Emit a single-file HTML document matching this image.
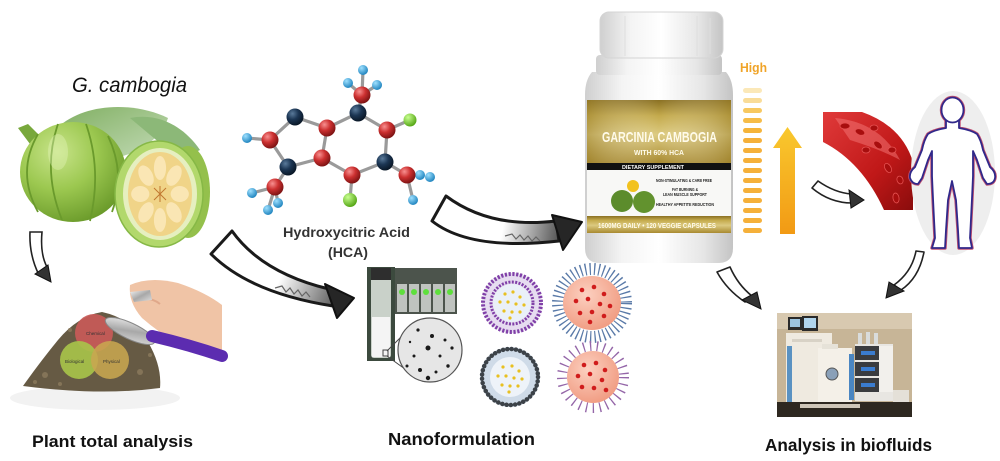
<!DOCTYPE html>
<html><head><meta charset="utf-8"><style>
html,body{margin:0;padding:0;background:#fff;}
svg{display:block;}
</style></head><body>
<svg width="1000" height="461" viewBox="0 0 1000 461" xmlns="http://www.w3.org/2000/svg">
<defs>
<radialGradient id="fruitG" cx="35%" cy="30%" r="75%"><stop offset="0" stop-color="#c8e48a"/><stop offset="0.5" stop-color="#9cc850"/><stop offset="1" stop-color="#6a9a2a"/></radialGradient>
<linearGradient id="leafG" x1="0" y1="0" x2="1" y2="1"><stop offset="0" stop-color="#7fae60"/><stop offset="1" stop-color="#c4dcb8"/></linearGradient>
<radialGradient id="redA" cx="35%" cy="30%" r="70%"><stop offset="0" stop-color="#f89090"/><stop offset="0.5" stop-color="#cc3030"/><stop offset="1" stop-color="#801414"/></radialGradient>
<radialGradient id="navA" cx="35%" cy="30%" r="70%"><stop offset="0" stop-color="#5a7a9a"/><stop offset="0.5" stop-color="#1c3654"/><stop offset="1" stop-color="#0a1828"/></radialGradient>
<radialGradient id="bluA" cx="35%" cy="30%" r="70%"><stop offset="0" stop-color="#9ee0ff"/><stop offset="1" stop-color="#2286c0"/></radialGradient>
<radialGradient id="grnA" cx="35%" cy="30%" r="70%"><stop offset="0" stop-color="#c8ff90"/><stop offset="1" stop-color="#58a818"/></radialGradient>
<linearGradient id="bodyG" x1="0" y1="0" x2="1" y2="0"><stop offset="0" stop-color="#cfcfcf"/><stop offset="0.25" stop-color="#f4f4f4"/><stop offset="0.5" stop-color="#ffffff"/><stop offset="0.8" stop-color="#e6e6e6"/><stop offset="1" stop-color="#c4c4c4"/></linearGradient>
<linearGradient id="goldG" x1="0" y1="0" x2="0" y2="1"><stop offset="0" stop-color="#8a7022"/><stop offset="0.25" stop-color="#c4aa4c"/><stop offset="0.55" stop-color="#dcca80"/><stop offset="1" stop-color="#a88a30"/></linearGradient>
<linearGradient id="goldH" x1="0" y1="0" x2="1" y2="0"><stop offset="0" stop-color="#9a7e28" stop-opacity="0.5"/><stop offset="0.5" stop-color="#fff" stop-opacity="0"/><stop offset="1" stop-color="#9a7e28" stop-opacity="0.5"/></linearGradient>
<linearGradient id="upG" x1="0" y1="0" x2="0" y2="1"><stop offset="0" stop-color="#f9c82e"/><stop offset="1" stop-color="#f29a14"/></linearGradient>
<linearGradient id="vesG" x1="0" y1="0" x2="1" y2="1"><stop offset="0" stop-color="#e03a3a"/><stop offset="0.6" stop-color="#c01818"/><stop offset="1" stop-color="#8a0c0c"/></linearGradient>
<radialGradient id="peachG" cx="40%" cy="35%" r="70%"><stop offset="0" stop-color="#fcd0c0"/><stop offset="1" stop-color="#f09a80"/></radialGradient>
<linearGradient id="arr1" x1="212" y1="240" x2="340" y2="300" gradientUnits="userSpaceOnUse"><stop offset="0" stop-color="#fff"/><stop offset="0.55" stop-color="#fff"/><stop offset="1" stop-color="#555"/></linearGradient>
<linearGradient id="arr2" x1="435" y1="210" x2="560" y2="232" gradientUnits="userSpaceOnUse"><stop offset="0" stop-color="#fff"/><stop offset="0.55" stop-color="#fff"/><stop offset="1" stop-color="#555"/></linearGradient>
<linearGradient id="silv" x1="0" y1="0" x2="1" y2="1"><stop offset="0" stop-color="#f4f4f4"/><stop offset="0.5" stop-color="#a8a8a8"/><stop offset="1" stop-color="#e0e0e0"/></linearGradient>
</defs>

<!-- ===== G. cambogia fruit ===== -->
<text x="72" y="92" font-family="Liberation Sans, sans-serif" font-style="italic" font-size="21" fill="#111" textLength="115" lengthAdjust="spacingAndGlyphs">G. cambogia</text>
<path d="M55,130 C80,104 130,100 168,118 C160,142 130,160 95,160 C75,155 60,145 55,130 Z" fill="url(#leafG)"/>
<path d="M130,118 C160,112 185,128 200,150 L180,160 Z" fill="#8cb878"/>
<path d="M18,128 L28,124 L44,140 L40,150 L30,144 Z" fill="#78a83c"/>
<ellipse cx="188" cy="192" rx="22" ry="46" fill="#94c04c"/>
<ellipse cx="73" cy="172" rx="53" ry="50" fill="url(#fruitG)"/>
<g fill="none" stroke="#6a9a2c" stroke-width="1.8">
<path d="M38,134 Q16,172 38,212"/>
<path d="M58,124 Q42,170 62,220"/>
<path d="M86,124 Q102,170 90,221"/>
<path d="M108,136 Q126,174 112,212"/>
</g>
<ellipse cx="58" cy="152" rx="10" ry="18" fill="#e4f4b8" opacity="0.4"/>
<ellipse cx="159" cy="194" rx="44" ry="53" fill="#b2d86c" stroke="#86b846" stroke-width="1.5"/>
<ellipse cx="160" cy="194" rx="37" ry="46" fill="#e6efc0"/>
<ellipse cx="160" cy="194" rx="32" ry="42" fill="#f0d488"/>
<g fill="#fae6b4">
<g transform="translate(160,194) scale(0.76,1) rotate(0) translate(0,-26)"><ellipse rx="8" ry="12"/></g>
<g transform="translate(160,194) scale(0.76,1) rotate(45) translate(0,-26)"><ellipse rx="8" ry="12"/></g>
<g transform="translate(160,194) scale(0.76,1) rotate(90) translate(0,-26)"><ellipse rx="8" ry="12"/></g>
<g transform="translate(160,194) scale(0.76,1) rotate(135) translate(0,-26)"><ellipse rx="8" ry="12"/></g>
<g transform="translate(160,194) scale(0.76,1) rotate(180) translate(0,-26)"><ellipse rx="8" ry="12"/></g>
<g transform="translate(160,194) scale(0.76,1) rotate(225) translate(0,-26)"><ellipse rx="8" ry="12"/></g>
<g transform="translate(160,194) scale(0.76,1) rotate(270) translate(0,-26)"><ellipse rx="8" ry="12"/></g>
<g transform="translate(160,194) scale(0.76,1) rotate(315) translate(0,-26)"><ellipse rx="8" ry="12"/></g>
</g>
<g stroke="#c07830" stroke-width="1"><line x1="154" y1="188" x2="166" y2="200"/><line x1="166" y1="188" x2="154" y2="200"/><line x1="160" y1="186" x2="160" y2="202"/></g>

<!-- small arrow fruit -> plant -->
<path d="M30,232 L42,232 Q40,254 47,267 L39,275 Q29,255 30,232 Z" fill="#fff" stroke="#222" stroke-width="1.6"/>
<path d="M35,274 L48,265 L51,282 Z" fill="#333" stroke="#111" stroke-width="1"/>

<!-- ===== Plant total analysis photo ===== -->
<ellipse cx="95" cy="398" rx="85" ry="12" fill="#f2f2f2"/>
<path d="M23,386 Q40,362 58,340 Q78,316 102,312 Q130,318 148,342 Q162,366 160,388 Q100,396 23,386 Z" fill="#665a44"/>
<g fill="#847458"><circle cx="45" cy="375" r="3"/><circle cx="140" cy="372" r="3"/><circle cx="70" cy="330" r="2"/><circle cx="150" cy="355" r="2"/><circle cx="35" cy="382" r="2"/><circle cx="60" cy="384" r="2"/></g>
<circle cx="94" cy="333" r="19" fill="#c85a58" opacity="0.92"/>
<circle cx="79" cy="360" r="19" fill="#a8c44a" opacity="0.9"/>
<circle cx="110" cy="360" r="19" fill="#c8a650" opacity="0.88"/>
<text x="86" y="335" font-family="Liberation Sans, sans-serif" font-size="4.5" fill="#333">Chemical</text>
<text x="65" y="363" font-family="Liberation Sans, sans-serif" font-size="4.5" fill="#333">Biological</text>
<text x="103" y="363" font-family="Liberation Sans, sans-serif" font-size="4.5" fill="#333">Physical</text>
<path d="M130,285 Q150,276 178,283 Q205,292 222,305 L222,360 Q200,356 180,345 Q158,332 142,318 Q128,302 130,285 Z" fill="#f0c4a6"/>
<path d="M135,300 Q150,296 160,304" stroke="#e0a88a" stroke-width="2" fill="none"/>
<path d="M130,292 L150,290 L152,300 L134,302 Z" fill="url(#silv)"/>
<ellipse cx="130" cy="331" rx="27" ry="8" transform="rotate(25 130 331)" fill="url(#silv)" stroke="#888" stroke-width="1"/>
<path d="M152,336 Q190,345 222,356" stroke="#5c2cb0" stroke-width="12" fill="none" stroke-linecap="round"/>

<text x="32" y="447" font-family="Liberation Sans, sans-serif" font-weight="bold" font-size="17" fill="#111" textLength="161" lengthAdjust="spacingAndGlyphs">Plant total analysis</text>

<!-- ===== Molecule ===== -->
<g stroke="#9a9a9a" stroke-width="3.2" fill="none">
<polyline points="295,117 327,128 322,158 288,167 270,140 295,117"/>
<polyline points="327,128 358,113 387,130 385,162 352,175 322,158"/>
<line x1="358" y1="113" x2="362" y2="95"/><line x1="362" y1="95" x2="363" y2="70"/><line x1="362" y1="95" x2="348" y2="83"/><line x1="362" y1="95" x2="377" y2="85"/>
<line x1="387" y1="130" x2="410" y2="120"/>
<line x1="385" y1="162" x2="407" y2="175"/><line x1="407" y1="175" x2="420" y2="175"/><line x1="407" y1="175" x2="413" y2="200"/>
<line x1="352" y1="175" x2="350" y2="200"/>
<line x1="270" y1="140" x2="247" y2="138"/>
<line x1="288" y1="167" x2="275" y2="187"/><line x1="275" y1="187" x2="252" y2="193"/><line x1="275" y1="187" x2="268" y2="210"/><line x1="275" y1="187" x2="278" y2="203"/>
</g>
<g fill="url(#bluA)">
<circle cx="363" cy="70" r="5"/><circle cx="348" cy="83" r="5"/><circle cx="377" cy="85" r="5"/>
<circle cx="247" cy="138" r="5"/><circle cx="252" cy="193" r="5"/><circle cx="268" cy="210" r="5"/><circle cx="278" cy="203" r="5"/>
<circle cx="420" cy="175" r="5"/><circle cx="430" cy="177" r="5"/><circle cx="413" cy="200" r="5"/>
</g>
<g fill="url(#grnA)"><circle cx="410" cy="120" r="6.5"/><circle cx="350" cy="200" r="7"/></g>
<g fill="url(#redA)">
<circle cx="362" cy="95" r="8.5"/><circle cx="387" cy="130" r="8.5"/><circle cx="327" cy="128" r="8.5"/><circle cx="270" cy="140" r="8.5"/>
<circle cx="322" cy="158" r="8.5"/><circle cx="352" cy="175" r="8.5"/><circle cx="407" cy="175" r="8.5"/><circle cx="275" cy="187" r="8.5"/>
</g>
<g fill="url(#navA)">
<circle cx="295" cy="117" r="8.5"/><circle cx="358" cy="113" r="8.5"/><circle cx="288" cy="167" r="8.5"/><circle cx="385" cy="162" r="8.5"/>
</g>
<text x="283" y="237" font-family="Liberation Sans, sans-serif" font-weight="bold" font-size="14" fill="#333" textLength="127" lengthAdjust="spacingAndGlyphs">Hydroxycitric Acid</text>
<text x="328" y="257" font-family="Liberation Sans, sans-serif" font-weight="bold" font-size="14" fill="#333" textLength="40" lengthAdjust="spacingAndGlyphs">(HCA)</text>

<!-- big arrow 1 -->
<path d="M232,231 Q262,273 329,289 L333,306 Q250,293 211,254 Z" fill="url(#arr1)" stroke="#1a1a1a" stroke-width="3" stroke-linejoin="round"/>
<polyline points="275,288 282,286 286,292 290,288 294,294 298,290 302,296 306,292 310,297" fill="none" stroke="#666" stroke-width="1.2"/>
<path d="M325,284 L354,298 L337,318 Z" fill="#262626" stroke="#111" stroke-width="2" stroke-linejoin="round"/>
<!-- big arrow 2 -->
<path d="M446,196 Q490,229 556,221 L559,241 Q470,251 432,221 Z" fill="url(#arr2)" stroke="#1a1a1a" stroke-width="3" stroke-linejoin="round"/>
<polyline points="505,236 512,234 516,239 520,235 524,240 528,236 532,241 536,237 540,241" fill="none" stroke="#666" stroke-width="1.2"/>
<path d="M552,215 L582,222 L563,250 Z" fill="#262626" stroke="#111" stroke-width="2" stroke-linejoin="round"/>

<!-- ===== Nanoformulation ===== -->
<rect x="367" y="267" width="28" height="94" fill="#3c4a3e"/>
<rect x="371" y="270" width="20" height="88" rx="3" fill="#c9d1c9"/>
<rect x="371" y="268" width="20" height="12" fill="#2e2e2e"/>
<rect x="372" y="317" width="18" height="40" fill="#f4f4f4"/>
<rect x="395" y="268" width="62" height="46" fill="#4c544c"/>
<g fill="#bfc3bf"><rect x="397" y="284" width="10" height="28"/><rect x="409" y="284" width="10" height="28"/><rect x="421" y="284" width="10" height="28"/><rect x="433" y="284" width="10" height="28"/><rect x="445" y="284" width="10" height="28"/></g>
<g fill="#5ee03c"><circle cx="402" cy="292" r="3"/><circle cx="414" cy="292" r="3"/><circle cx="426" cy="292" r="3"/><circle cx="438" cy="292" r="3"/><circle cx="450" cy="292" r="3"/></g>
<line x1="387" y1="351" x2="418" y2="320" stroke="#444" stroke-width="1"/>
<line x1="387" y1="356" x2="420" y2="380" stroke="#444" stroke-width="1"/>
<rect x="383" y="350" width="5" height="6" fill="none" stroke="#444" stroke-width="1"/>
<circle cx="430" cy="350" r="32" fill="#e6e6e6" stroke="#555" stroke-width="1.2"/>
<g fill="#1a1a1a"><circle cx="418" cy="330" r="1.6"/><circle cx="432" cy="336" r="2"/><circle cx="445" cy="340" r="1.5"/><circle cx="428" cy="348" r="2.5"/><circle cx="414" cy="356" r="1.5"/><circle cx="440" cy="356" r="1.5"/><circle cx="452" cy="348" r="1.6"/><circle cx="420" cy="370" r="2"/><circle cx="436" cy="372" r="1.5"/><circle cx="448" cy="366" r="1.7"/><circle cx="410" cy="342" r="1.2"/><circle cx="428" cy="378" r="2.2"/><circle cx="407" cy="366" r="1.5"/></g>

<!-- liposome 1 -->
<circle cx="512" cy="303" r="30" fill="#e6dcf0"/>
<circle cx="512" cy="303" r="29" fill="none" stroke="#8040a8" stroke-width="4" stroke-dasharray="2.2 1.6"/>
<circle cx="512" cy="303" r="21" fill="none" stroke="#8040a8" stroke-width="3" stroke-dasharray="2 1.4"/>
<circle cx="512" cy="303" r="19" fill="#eaf0f8"/>
<g fill="#e8c020"><circle cx="505" cy="294" r="1.6"/><circle cx="513" cy="292" r="1.6"/><circle cx="520" cy="297" r="1.6"/><circle cx="500" cy="302" r="1.6"/><circle cx="508" cy="302" r="1.6"/><circle cx="516" cy="304" r="1.6"/><circle cx="524" cy="305" r="1.6"/><circle cx="504" cy="311" r="1.6"/><circle cx="512" cy="312" r="1.6"/><circle cx="520" cy="312" r="1.6"/><circle cx="510" cy="318" r="1.6"/></g>
<!-- particle 2 blue hairs -->
<circle cx="592" cy="303" r="34" fill="none" stroke="#5a7aa8" stroke-width="12" stroke-dasharray="1.3 3.2"/>
<ellipse cx="592" cy="303" rx="29" ry="27" fill="url(#peachG)"/>
<g fill="#d01c1c"><circle cx="582" cy="290" r="2.3"/><circle cx="594" cy="287" r="2.3"/><circle cx="604" cy="294" r="2.3"/><circle cx="576" cy="301" r="2.3"/><circle cx="588" cy="299" r="2.3"/><circle cx="600" cy="304" r="2.3"/><circle cx="610" cy="306" r="2.3"/><circle cx="580" cy="313" r="2.3"/><circle cx="592" cy="312" r="2.3"/><circle cx="604" cy="316" r="2.3"/><circle cx="590" cy="322" r="2.3"/></g>
<!-- particle 3 -->
<circle cx="510" cy="377" r="30" fill="#cfdbe8"/>
<circle cx="510" cy="377" r="28" fill="none" stroke="#3c4248" stroke-width="4.5" stroke-dasharray="0.1 4.2" stroke-linecap="round"/>
<circle cx="510" cy="377" r="20" fill="#eef3f9"/>
<g fill="#e8c020"><circle cx="503" cy="367" r="1.6"/><circle cx="512" cy="366" r="1.6"/><circle cx="519" cy="371" r="1.6"/><circle cx="498" cy="376" r="1.6"/><circle cx="506" cy="376" r="1.6"/><circle cx="514" cy="378" r="1.6"/><circle cx="522" cy="379" r="1.6"/><circle cx="502" cy="385" r="1.6"/><circle cx="510" cy="386" r="1.6"/><circle cx="518" cy="386" r="1.6"/><circle cx="509" cy="392" r="1.6"/></g>
<!-- particle 4 purple hairs -->
<circle cx="593" cy="377" r="31" fill="none" stroke="#9466a8" stroke-width="10" stroke-dasharray="1.3 5.5"/>
<circle cx="593" cy="377" r="26" fill="url(#peachG)"/>
<g fill="#d01c1c"><circle cx="584" cy="365" r="2.3"/><circle cx="596" cy="363" r="2.3"/><circle cx="605" cy="370" r="2.3"/><circle cx="578" cy="376" r="2.3"/><circle cx="590" cy="374" r="2.3"/><circle cx="602" cy="380" r="2.3"/><circle cx="582" cy="387" r="2.3"/><circle cx="594" cy="388" r="2.3"/><circle cx="606" cy="390" r="2.3"/></g>

<text x="388" y="445" font-family="Liberation Sans, sans-serif" font-weight="bold" font-size="17.5" fill="#111" textLength="147" lengthAdjust="spacingAndGlyphs">Nanoformulation</text>

<!-- ===== Bottle ===== -->
<path d="M592,72 Q585,80 585,95 L585,248 Q585,263 600,263 L718,263 Q733,263 733,248 L733,95 Q733,80 726,72 Z" fill="url(#bodyG)"/>
<rect x="596" y="55" width="126" height="20" rx="4" fill="url(#bodyG)"/>
<rect x="600" y="12" width="123" height="46" rx="9" fill="url(#bodyG)" stroke="#d4d4d4" stroke-width="1"/>
<g stroke="#dedede" stroke-width="1"><line x1="612" y1="18" x2="612" y2="54"/><line x1="625" y1="16" x2="625" y2="56"/><line x1="697" y1="16" x2="697" y2="56"/><line x1="710" y1="18" x2="710" y2="54"/></g>
<rect x="587" y="100" width="144" height="63" fill="url(#goldG)"/>
<rect x="587" y="100" width="144" height="63" fill="url(#goldH)"/>
<text x="602" y="142" font-family="Liberation Sans, sans-serif" font-weight="bold" font-size="15" fill="#fffbea" textLength="115" lengthAdjust="spacingAndGlyphs">GARCINIA CAMBOGIA</text>
<text x="634" y="155" font-family="Liberation Sans, sans-serif" font-weight="bold" font-size="7.5" fill="#fffbea" textLength="50" lengthAdjust="spacingAndGlyphs">WITH 60% HCA</text>
<rect x="587" y="163" width="144" height="7" fill="#111"/>
<text x="622" y="169" font-family="Liberation Sans, sans-serif" font-weight="bold" font-size="5.5" fill="#fff" textLength="62" lengthAdjust="spacingAndGlyphs">DIETARY SUPPLEMENT</text>
<rect x="587" y="170" width="144" height="46" fill="#f8f8f6"/>
<circle cx="633" cy="186" r="6" fill="#f2c21e"/>
<circle cx="622" cy="201" r="11" fill="#5c8c2c"/>
<circle cx="644" cy="202" r="11" fill="#62922e"/>
<g font-family="Liberation Sans, sans-serif" font-weight="bold" font-size="4.5" fill="#222">
<text x="656" y="182" textLength="56" lengthAdjust="spacingAndGlyphs">NON-STIMULATING &amp; CARB FREE</text>
<text x="672" y="191" textLength="26" lengthAdjust="spacingAndGlyphs">FAT BURNING &amp;</text>
<text x="663" y="196" textLength="44" lengthAdjust="spacingAndGlyphs">LEAN MUSCLE SUPPORT</text>
<text x="656" y="206" textLength="58" lengthAdjust="spacingAndGlyphs">HEALTHY APPETITE REDUCTION</text>
</g>
<rect x="587" y="216" width="144" height="17" fill="url(#goldG)"/>
<text x="598" y="228" font-family="Liberation Sans, sans-serif" font-weight="bold" font-size="7" fill="#fffbea" textLength="118" lengthAdjust="spacingAndGlyphs">1600MG DAILY • 120 VEGGIE CAPSULES</text>

<!-- High bar -->
<text x="740" y="72" font-family="Liberation Sans, sans-serif" font-weight="bold" font-size="13" fill="#f0a428" textLength="27" lengthAdjust="spacingAndGlyphs">High</text>
<g>
<rect x="743" y="88" width="19" height="5" rx="2.5" fill="#fbe8b8"/>
<rect x="743" y="98" width="19" height="5" rx="2.5" fill="#f9dc98"/>
<rect x="743" y="108" width="19" height="5" rx="2.5" fill="#f7c860"/>
<rect x="743" y="118" width="19" height="5" rx="2.5" fill="#f6bc48"/>
<rect x="743" y="128" width="19" height="5" rx="2.5" fill="#f5b43a"/>
<rect x="743" y="138" width="19" height="5" rx="2.5" fill="#f5b03a"/>
<rect x="743" y="148" width="19" height="5" rx="2.5" fill="#f5b03a"/>
<rect x="743" y="158" width="19" height="5" rx="2.5" fill="#f5b03a"/>
<rect x="743" y="168" width="19" height="5" rx="2.5" fill="#f5b03a"/>
<rect x="743" y="178" width="19" height="5" rx="2.5" fill="#f5b03a"/>
<rect x="743" y="188" width="19" height="5" rx="2.5" fill="#f5b03a"/>
<rect x="743" y="198" width="19" height="5" rx="2.5" fill="#f5b03a"/>
<rect x="743" y="208" width="19" height="5" rx="2.5" fill="#f5b03a"/>
<rect x="743" y="218" width="19" height="5" rx="2.5" fill="#f5b03a"/>
<rect x="743" y="228" width="19" height="5" rx="2.5" fill="#f5b03a"/>
</g>
<path d="M773,148 L787.5,127 L802,148 L795,148 L795,234 L780,234 L780,148 Z" fill="url(#upG)"/>

<!-- ===== Blood vessel ===== -->
<path d="M823,112 L862,112 Q902,126 913,162 L913,210 L884,210 Q862,162 823,142 Z" fill="url(#vesG)"/>
<path d="M835,118 Q880,122 900,160 Q882,150 850,140 Z" fill="#f47878" opacity="0.5"/>
<g fill="#a80e0e" stroke="#e45050" stroke-width="0.8">
<ellipse cx="845" cy="126" rx="5" ry="3"/><ellipse cx="860" cy="132" rx="5" ry="3" transform="rotate(20 860 132)"/><ellipse cx="874" cy="128" rx="4" ry="3"/>
<ellipse cx="878" cy="145" rx="5" ry="3" transform="rotate(40 878 145)"/><ellipse cx="892" cy="150" rx="4" ry="3"/><ellipse cx="888" cy="168" rx="5" ry="3" transform="rotate(60 888 168)"/>
<ellipse cx="900" cy="180" rx="4" ry="3" transform="rotate(70 900 180)"/><ellipse cx="896" cy="198" rx="5" ry="3" transform="rotate(80 896 198)"/><ellipse cx="866" cy="150" rx="4" ry="3"/>
</g>
<!-- arrow to vessel -->
<path d="M812,188 L818,181 Q835,193 852,194 L852,203 Q830,203 812,188 Z" fill="#fff" stroke="#222" stroke-width="1.6" stroke-linejoin="round"/>
<path d="M849,190 L864,200 L851,208 Z" fill="#333" stroke="#111" stroke-width="1"/>

<!-- ===== Human ===== -->
<ellipse cx="953" cy="173" rx="42" ry="82" fill="#eeeeee"/>
<g fill="#fff" stroke="#c05070" stroke-width="3.4" stroke-linejoin="round">
<path d="M946,120 L946,128 Q934,130 928,134 Q924,140 922,150 L915,167 Q909,172 910,178 Q912,184 918,184 L922,178 L928,160 L932,151 L932,176 Q933,200 935,238 L932,248 L945,248 L946,230 L948,200 L952,181 L956,200 L958,230 L959,248 L972,248 L970,238 Q972,200 973,176 L973,151 L977,160 L983,178 L987,184 Q994,184 995,178 Q996,172 990,167 L983,150 Q981,140 977,134 Q971,130 959,128 L959,120 Z"/>
<ellipse cx="952.5" cy="110" rx="11" ry="12.5"/>
</g>
<g fill="#fff" stroke="#30288a" stroke-width="1.8" stroke-linejoin="round">
<path d="M946,120 L946,128 Q934,130 928,134 Q924,140 922,150 L915,167 Q909,172 910,178 Q912,184 918,184 L922,178 L928,160 L932,151 L932,176 Q933,200 935,238 L932,248 L945,248 L946,230 L948,200 L952,181 L956,200 L958,230 L959,248 L972,248 L970,238 Q972,200 973,176 L973,151 L977,160 L983,178 L987,184 Q994,184 995,178 Q996,172 990,167 L983,150 Q981,140 977,134 Q971,130 959,128 L959,120 Z"/>
<ellipse cx="952.5" cy="110" rx="11" ry="12.5"/>
</g>

<!-- arrows to instrument -->
<path d="M717,272 L730,267 Q738,285 752,296 L745,302 Q727,290 717,272 Z" fill="#fff" stroke="#222" stroke-width="1.6" stroke-linejoin="round"/>
<path d="M742,300 L757,292 L761,309 Z" fill="#333" stroke="#111" stroke-width="1"/>
<path d="M916,251 L924,252 Q919,278 901,290 L894,285 Q912,272 916,251 Z" fill="#fff" stroke="#222" stroke-width="1.6" stroke-linejoin="round"/>
<path d="M889,282 L904,291 L886,298 Z" fill="#333" stroke="#111" stroke-width="1"/>

<!-- ===== Instrument photo ===== -->
<rect x="777" y="313" width="135" height="104" fill="#c7b597"/>
<rect x="777" y="313" width="135" height="16" fill="#d8c9b0"/>
<rect x="788" y="317" width="14" height="13" fill="#2a2a2a"/><rect x="790" y="319" width="10" height="8" fill="#9cc4e0"/>
<rect x="802" y="316" width="16" height="15" fill="#2a2a2a"/><rect x="804" y="318" width="12" height="10" fill="#b0d4ec"/>
<rect x="786" y="333" width="46" height="71" fill="#efeae0"/>
<rect x="787" y="346" width="5" height="57" fill="#5a92c2"/>
<rect x="792" y="339" width="30" height="3" fill="#d8d2c6"/>
<rect x="818" y="348" width="34" height="57" fill="#f4f0e8"/>
<rect x="849" y="354" width="5" height="46" fill="#4a86c2"/>
<circle cx="832" cy="374" r="6" fill="#8aa0b8" stroke="#555" stroke-width="1"/>
<rect x="822" y="344" width="16" height="5" fill="#e6e2d8"/>
<rect x="858" y="333" width="4" height="12" fill="#dde6ee" opacity="0.8"/><rect x="866" y="332" width="4" height="13" fill="#dde6ee" opacity="0.8"/><rect x="874" y="333" width="4" height="12" fill="#dde6ee" opacity="0.8"/>
<rect x="855" y="344" width="38" height="57" fill="#e8e6e2"/>
<rect x="855" y="346" width="24" height="14" fill="#3a3c40"/><rect x="861" y="351" width="14" height="4" fill="#3a7cd0"/>
<rect x="855" y="362" width="24" height="14" fill="#3a3c40"/><rect x="861" y="367" width="14" height="4" fill="#3a7cd0"/>
<rect x="855" y="378" width="24" height="14" fill="#3a3c40"/><rect x="861" y="383" width="14" height="4" fill="#3a7cd0"/>
<rect x="879" y="346" width="14" height="46" fill="#f2f0ec"/>
<rect x="893" y="390" width="16" height="12" fill="#e4e0d8"/>
<rect x="777" y="402" width="135" height="15" fill="#2e2820"/>
<rect x="800" y="404" width="60" height="4" fill="#cfc6b8"/>

<text x="765" y="451" font-family="Liberation Sans, sans-serif" font-weight="bold" font-size="17.5" fill="#111" textLength="167" lengthAdjust="spacingAndGlyphs">Analysis in biofluids</text>
</svg>
</body></html>
